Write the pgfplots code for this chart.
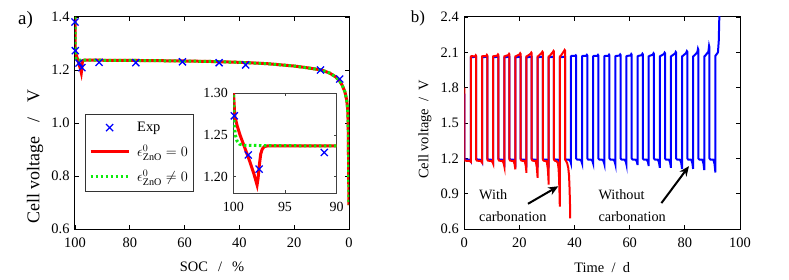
\documentclass[border=0pt]{standalone}
\usepackage{fontspec}
\setmainfont{Liberation Serif}
\usepackage{amsmath}
\usepackage{pgfplots}
\usepackage{pgfplotstable}
\pgfplotsset{compat=1.18}
\usetikzlibrary{arrows.meta}

\definecolor{cred}{rgb}{1,0,0}
\definecolor{cblue}{rgb}{0,0,1}
\definecolor{cgreen}{rgb}{0.05,0.92,0.05}

\pgfplotstableread{
x y
100 1.40
99.98 1.30
99.85 1.272
99.6 1.26
99.35 1.25
98.9 1.235
98.4 1.218
98.0 1.203
97.7 1.19
97.6 1.198
97.5 1.212
97.35 1.227
97.2 1.233
97.0 1.236
96.7 1.2368
90 1.2368
80 1.2362
70 1.2352
60 1.234
50 1.232
40 1.229
30 1.224
20 1.215
15 1.208
10 1.200
7 1.188
5 1.175
3.5 1.160
2.5 1.143
1.5 1.118
0.85 1.087
0.5 1.055
0.3 1.00
0.2 0.90
0.1 0.78
0.03 0.70
0 0.69
}\redtab

\pgfplotstableread{
x y
100 1.40
99.98 1.30
99.9 1.262
99.8 1.25
99.65 1.243
99.4 1.239
99.0 1.2375
96 1.2372
90 1.2368
80 1.2362
70 1.2352
60 1.234
50 1.232
40 1.229
30 1.224
20 1.215
15 1.208
10 1.200
7 1.188
5 1.175
3.5 1.160
2.5 1.143
1.5 1.118
0.85 1.087
0.5 1.055
0.3 1.00
0.2 0.90
0.1 0.78
0.03 0.70
0 0.69
}\greentab

\pgfplotstableread{
x y
100 1.381
99.9 1.273
98.55 1.226
97.5 1.209
91.2 1.229
77.8 1.2275
60.8 1.231
47.4 1.2275
37.7 1.219
10.4 1.200
3.4 1.166
}\exptab

\pgfplotsset{
  every axis/.append style={
    scale only axis,
    axis line style={line width=1bp},
    tick style={line width=0.8bp, black},
    major tick length=4bp,
    tick label style={font=\fontsize{14.5}{14.5}\selectfont},
    xticklabel style={yshift=-5bp},
    yticklabel style={xshift=-2bp},
    label style={font=\fontsize{14.5}{15}\selectfont},
    /pgf/number format/assume math mode=true,
  },
}

\begin{document}
\begin{tikzpicture}
\useasboundingbox (0bp,0bp) rectangle (789bp,280bp);

% ---------- panel a ----------
\begin{axis}[
  at={(75bp,51bp)}, anchor=south west,
  width=274bp, height=212bp,
  xmin=0, xmax=100, x dir=reverse,
  ymin=0.6, ymax=1.4,
  xtick={0,20,40,60,80,100},
  ytick={0.6,0.8,1.0,1.2,1.4},
  yticklabel style={/pgf/number format/fixed,/pgf/number format/fixed zerofill,/pgf/number format/precision=1},
  xlabel={SOC\hspace{0.7em}/\hspace{0.7em}\%},
  ylabel={Cell voltage\hspace{0.8em}/\hspace{0.8em}V},
  xlabel style={at={(axis description cs:0.5,-0.178)}, anchor=center},
  ylabel style={at={(axis description cs:-0.146,0.34)}, anchor=center, font=\fontsize{18}{19}\selectfont},
  legend style={at={(0.035,0.175)}, anchor=south west, draw=black!80, line width=1.2bp,
    font=\fontsize{14.5}{15}\selectfont, row sep=8bp, inner xsep=4bp, inner ysep=6bp,
    cells={anchor=west}},
  legend image code/.code={\draw[mark repeat=2,mark phase=2,#1] plot coordinates {(0bp,0bp)(19bp,0bp)(38bp,0bp)}; \path (43bp,0bp);},
]
\addlegendimage{only marks, mark=x, cblue, mark size=5bp, line width=1.3bp}
\addlegendentry{Exp}
\addlegendimage{cred, line width=3bp}
\addlegendentry{$\epsilon^{0}_{\text{ZnO}} = 0$}
\addlegendimage{cgreen, line width=3bp, dash pattern=on 2.5bp off 2.5bp}
\addlegendentry{$\epsilon^{0}_{\text{ZnO}} \neq 0$}
\addplot[cred, line width=3bp, forget plot] table {\redtab};
\addplot[cgreen, line width=3bp, dash pattern=on 2.5bp off 2.5bp, forget plot] table {\greentab};
\addplot[cblue, only marks, mark=x, mark size=5bp, line width=1.3bp, forget plot] table {\exptab};
\end{axis}

% ---------- inset ----------
\begin{axis}[
  at={(233.3bp,86.7bp)}, anchor=south west,
  width=103.4bp, height=100bp,
  xmin=90, xmax=100, x dir=reverse,
  ymin=1.18, ymax=1.30,
  xtick={90,95,100},
  ytick={1.20,1.25,1.30},
  tick label style={font=\fontsize{14}{14}\selectfont},
  yticklabel style={/pgf/number format/fixed,/pgf/number format/fixed zerofill,/pgf/number format/precision=2},
  axis background/.style={fill=white},
  axis line style={line width=0.6bp, black!75},
  tick style={line width=0.5bp, black!75},
  major tick length=3bp,
]
\addplot[cred, line width=3bp] table {\redtab};
\addplot[cgreen, line width=3bp, dash pattern=on 2.5bp off 2.5bp] table {\greentab};
\addplot[cblue, only marks, mark=x, mark size=5bp, line width=1.3bp] table {\exptab};
\end{axis}

% ---------- panel b ----------
\begin{axis}[
  at={(464.3bp,51bp)}, anchor=south west,
  width=275.7bp, height=212bp,
  xmin=0, xmax=100,
  ymin=0.6, ymax=2.4,
  xtick={0,20,40,60,80,100},
  ytick={0.6,0.9,1.2,1.5,1.8,2.1,2.4},
  yticklabel style={/pgf/number format/fixed,/pgf/number format/fixed zerofill,/pgf/number format/precision=1},
  xlabel={Time\enspace/\enspace d},
  ylabel={Cell voltage\enspace/\enspace V},
  xlabel style={at={(axis description cs:0.5,-0.184)}, anchor=center},
  ylabel style={at={(axis description cs:-0.1425,0.47)}, anchor=center},
]
\addplot[cblue, line width=2bp] coordinates {
(0,1.75)(0,1.20)(0.3,1.19)(1.7,1.188)(2.1,1.185)(2.3,1.179)(2.4,1.175)
(2.40,2.055)(2.70,2.058)(3.90,2.062)(4.15,2.065)(4.30,2.063)(4.30,1.20)(4.60,1.19)(5.73,1.188)(6.13,1.183)(6.33,1.175)(6.43,1.17)
(6.43,2.055)(6.73,2.058)(7.93,2.062)(8.18,2.065)(8.33,2.063)(8.33,1.20)(8.63,1.19)(9.76,1.188)(10.16,1.183)(10.36,1.175)(10.46,1.17)
(10.46,2.055)(10.76,2.058)(11.96,2.062)(12.21,2.065)(12.36,2.063)(12.36,1.20)(12.66,1.19)(13.79,1.188)(14.19,1.182)(14.39,1.174)(14.49,1.168)
(14.49,2.055)(14.79,2.058)(15.99,2.062)(16.24,2.065)(16.39,2.063)(16.39,1.20)(16.69,1.19)(17.82,1.188)(18.22,1.182)(18.42,1.172)(18.52,1.166)
(18.52,2.055)(18.82,2.058)(20.02,2.062)(20.27,2.065)(20.42,2.063)(20.42,1.20)(20.72,1.19)(21.85,1.188)(22.25,1.181)(22.45,1.171)(22.55,1.165)
(22.55,2.055)(22.85,2.058)(24.05,2.062)(24.30,2.065)(24.45,2.063)(24.45,1.20)(24.75,1.19)(25.88,1.188)(26.28,1.181)(26.48,1.171)(26.58,1.165)
(26.58,2.055)(26.88,2.058)(28.08,2.062)(28.33,2.065)(28.48,2.063)(28.48,1.20)(28.78,1.19)(29.91,1.188)(30.31,1.181)(30.51,1.170)(30.61,1.163)
(30.61,2.055)(30.91,2.058)(32.11,2.062)(32.36,2.065)(32.51,2.063)(32.51,1.20)(32.81,1.19)(33.94,1.188)(34.34,1.180)(34.54,1.169)(34.64,1.162)
(34.64,2.055)(34.94,2.058)(36.14,2.062)(36.39,2.065)(36.54,2.063)(36.54,1.20)(36.84,1.19)(37.97,1.188)(38.37,1.180)(38.57,1.168)(38.67,1.16)
(38.67,2.065)(38.97,2.07)(40.17,2.07)(40.42,2.075)(40.57,2.07)(40.57,1.20)(40.87,1.19)(42.00,1.188)(42.40,1.180)(42.60,1.168)(42.70,1.16)
(42.70,2.065)(43.00,2.07)(44.20,2.07)(44.45,2.078)(44.60,2.073)(44.60,1.20)(44.90,1.19)(46.03,1.188)(46.43,1.179)(46.63,1.166)(46.73,1.158)
(46.73,2.065)(47.03,2.07)(48.23,2.07)(48.48,2.078)(48.63,2.073)(48.63,1.20)(48.93,1.19)(50.06,1.188)(50.46,1.178)(50.66,1.164)(50.76,1.155)
(50.76,2.065)(51.06,2.07)(52.26,2.07)(52.51,2.08)(52.66,2.075)(52.66,1.20)(52.96,1.19)(54.09,1.188)(54.49,1.176)(54.69,1.16)(54.79,1.15)
(54.79,2.065)(55.09,2.07)(56.29,2.072)(56.54,2.082)(56.69,2.077)(56.69,1.20)(56.99,1.19)(58.12,1.188)(58.52,1.175)(58.72,1.158)(58.82,1.147)
(58.82,2.065)(59.12,2.07)(60.32,2.073)(60.57,2.085)(60.72,2.08)(60.72,1.20)(61.02,1.19)(62.15,1.188)(62.55,1.174)(62.75,1.155)(62.85,1.143)
(62.85,2.065)(63.15,2.07)(64.35,2.076)(64.60,2.088)(64.75,2.083)(64.75,1.20)(65.05,1.19)(66.18,1.188)(66.58,1.171)(66.78,1.149)(66.88,1.135)
(66.88,2.065)(67.18,2.07)(68.38,2.08)(68.63,2.092)(68.78,2.087)(68.78,1.20)(69.08,1.19)(70.21,1.188)(70.61,1.166)(70.81,1.138)(70.91,1.12)
(70.91,2.065)(71.21,2.07)(72.41,2.085)(72.66,2.097)(72.81,2.092)(72.81,1.20)(73.11,1.19)(74.24,1.188)(74.64,1.166)(74.84,1.138)(74.94,1.12)
(74.94,2.065)(75.24,2.07)(76.44,2.09)(76.69,2.103)(76.84,2.098)(76.84,1.20)(77.14,1.19)(78.27,1.188)(78.67,1.162)(78.87,1.13)(78.97,1.11)
(78.97,2.065)(79.27,2.07)(80.47,2.095)(80.72,2.11)(80.87,2.105)(80.87,1.20)(81.17,1.19)(82.30,1.188)(82.70,1.162)(82.90,1.13)(83.00,1.11)
(83.00,2.065)(83.30,2.07)(84.50,2.10)(84.75,2.13)(84.90,2.12)(84.90,1.20)(85.20,1.19)(86.33,1.188)(86.73,1.159)(86.93,1.123)(87.03,1.10)
(87.03,2.065)(87.33,2.07)(88.53,2.105)(88.78,2.155)(88.93,2.14)(88.93,1.20)(89.23,1.19)(90.36,1.188)(90.76,1.152)(90.96,1.108)(91.06,1.08)
(91.06,2.07)(91.4,2.08)(92.0,2.10)(92.3,2.2)(92.6,2.5)
};
\addplot[cred, line width=2bp] coordinates {
(0,1.80)(0,1.19)(0.3,1.18)(1.7,1.178)(2.1,1.175)(2.3,1.172)(2.4,1.17)
(2.40,2.065)(2.70,2.068)(3.90,2.065)(4.15,2.075)(4.30,2.07)(4.30,1.19)(4.60,1.18)(5.73,1.178)(6.13,1.174)(6.33,1.168)(6.43,1.165)
(6.43,2.065)(6.73,2.068)(7.93,2.068)(8.18,2.078)(8.33,2.073)(8.33,1.19)(8.63,1.18)(9.76,1.178)(10.16,1.170)(10.36,1.161)(10.46,1.155)
(10.46,2.065)(10.76,2.068)(11.96,2.072)(12.21,2.082)(12.36,2.077)(12.36,1.19)(12.66,1.18)(13.79,1.178)(14.19,1.163)(14.39,1.146)(14.49,1.135)
(14.49,2.065)(14.79,2.068)(15.99,2.077)(16.24,2.087)(16.39,2.082)(16.39,1.19)(16.69,1.18)(17.82,1.178)(18.22,1.153)(18.42,1.124)(18.52,1.106)
(18.52,2.065)(18.82,2.068)(20.02,2.082)(20.27,2.092)(20.42,2.087)(20.42,1.19)(20.72,1.18)(21.85,1.178)(22.25,1.143)(22.45,1.102)(22.55,1.077)
(22.55,2.065)(22.85,2.068)(24.05,2.088)(24.30,2.098)(24.45,2.093)(24.45,1.19)(24.75,1.18)(25.88,1.178)(26.28,1.128)(26.48,1.071)(26.58,1.035)
(26.58,2.065)(26.88,2.068)(28.08,2.095)(28.33,2.105)(28.48,2.10)(28.48,1.19)(28.78,1.18)(29.91,1.175)(30.31,1.108)(30.51,1.027)(30.61,0.977)
(30.61,2.065)(30.91,2.068)(32.11,2.102)(32.36,2.112)(32.51,2.107)(32.51,1.19)(32.81,1.18)(33.50,1.175)(33.94,1.16)(34.2,1.11)(34.34,1.05)(34.54,0.90)(34.64,0.79)
(34.64,2.065)(34.94,2.068)(36.14,2.11)(36.39,2.12)(36.54,2.115)(36.54,1.19)(36.84,1.18)(37.3,1.16)(37.7,1.12)(38.0,1.05)(38.2,0.93)(38.35,0.80)(38.42,0.69)
};
\draw[-{Stealth[length=10bp,width=8.5bp]}, line width=2bp] (axis cs:23.1,0.814) -- (axis cs:34.1,0.963);
\draw[-{Stealth[length=10bp,width=8.5bp]}, line width=2bp] (axis cs:71.5,0.82) -- (axis cs:81.5,1.134);
\end{axis}

\begin{scope}[every node/.style={anchor=west, inner sep=0pt, font=\fontsize{14.3}{15}\selectfont}]
\node at (479bp,85bp) {With};
\node at (479bp,63.5bp) {carbonation};
\node at (598.3bp,85bp) {Without};
\node at (598.3bp,63.5bp) {carbonation};
\end{scope}

\node[font=\fontsize{19}{19}\selectfont] at (25.5bp,260bp) {a)};
\node[font=\fontsize{17}{17}\selectfont] at (418bp,261.5bp) {b)};
\end{tikzpicture}
\end{document}
